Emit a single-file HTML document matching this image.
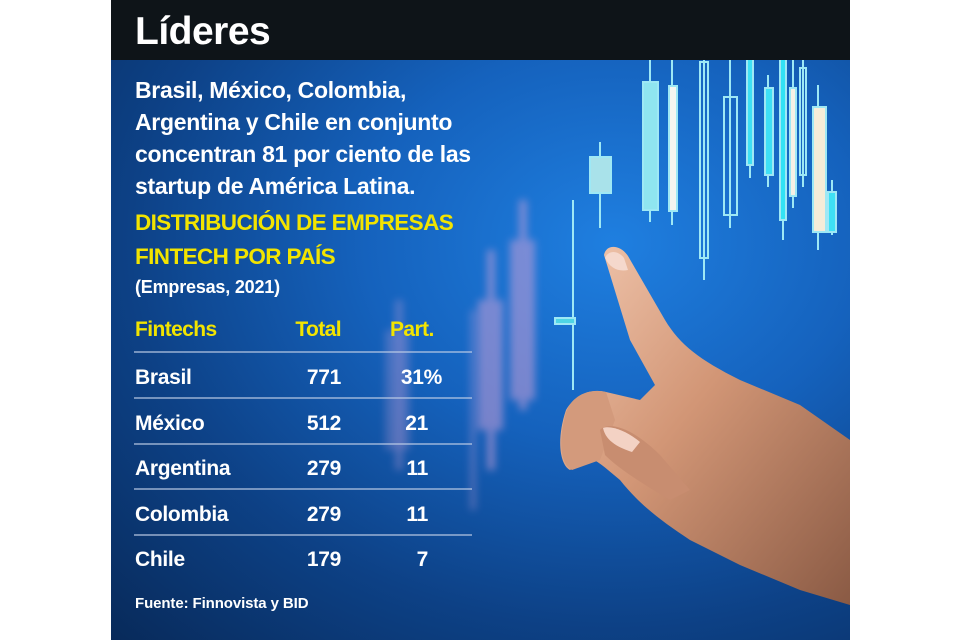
<!DOCTYPE html>
<html><head><meta charset="utf-8"><style>
html,body{margin:0;padding:0;background:#fff;width:960px;height:640px;overflow:hidden}
#p{position:absolute;left:111px;top:0;width:739px;height:640px;overflow:hidden;
background:radial-gradient(ellipse at 68% 38%,#1f7fe0 0%,#1562bd 35%,#0d4186 68%,#082a5a 100%)}
svg{position:absolute;left:-111px;top:0}
.t{position:absolute;font-family:"Liberation Sans",sans-serif;font-weight:bold;color:#fff;white-space:nowrap}
#hd{position:absolute;left:0;top:0;width:739px;height:60px;background:#0e1418}
.y{color:#f2e400}
.ln{position:absolute;left:23px;width:338px;height:2px;background:rgba(190,205,230,.6)}
.r{text-align:right}
</style></head><body>
<div id="p">
<svg width="960" height="640">
<defs>
<linearGradient id="sk" x1="0" y1="0" x2="1" y2="1"><stop offset="0" stop-color="#f2c8b0"/><stop offset=".45" stop-color="#d29676"/><stop offset="1" stop-color="#8a5a44"/></linearGradient>
<filter id="bl"><feGaussianBlur stdDeviation="4"/></filter>
</defs>
<g filter="url(#bl)" opacity=".55" fill="#c79fd8">
<rect x="519" y="200" width="8" height="210"/><rect x="510" y="240" width="25" height="160"/>
<rect x="487" y="250" width="8" height="220"/><rect x="478" y="300" width="25" height="130"/>
<rect x="395" y="300" width="8" height="170" opacity=".6"/><rect x="385" y="330" width="25" height="120" opacity=".5"/>
<rect x="470" y="310" width="6" height="200" opacity=".6"/>
</g>
<g stroke="#9ee8f5" stroke-width="2" fill="none">
<line x1="600" y1="142" x2="600" y2="228"/><rect x="590" y="157" width="21" height="36" fill="#a9e2ea"/>
<line x1="573" y1="200" x2="573" y2="390"/><rect x="555" y="318" width="20" height="6" fill="#4fd5e5"/>
<line x1="650" y1="50" x2="650" y2="222"/><rect x="643" y="82" width="15" height="128" fill="#8fe5f0"/>
<line x1="672" y1="50" x2="672" y2="225"/><rect x="669" y="86" width="8" height="125" fill="#f5f5f0"/>
<line x1="704" y1="55" x2="704" y2="280"/><rect x="700" y="62" width="8" height="196"/>
<line x1="730" y1="60" x2="730" y2="228"/><rect x="724" y="97" width="13" height="118"/>
<line x1="750" y1="50" x2="750" y2="178"/><rect x="747" y="52" width="6" height="113" fill="#3ee0f5"/>
<line x1="768" y1="75" x2="768" y2="187"/><rect x="765" y="88" width="8" height="87" fill="#3ee0f5"/>
<line x1="783" y1="50" x2="783" y2="240"/><rect x="780" y="52" width="6" height="168" fill="#32e2f5"/>
<line x1="793" y1="55" x2="793" y2="208"/><rect x="790" y="88" width="6" height="108" fill="#f5f0e5"/>
<line x1="803" y1="50" x2="803" y2="187"/><rect x="800" y="68" width="6" height="107"/>
<line x1="818" y1="85" x2="818" y2="250"/><rect x="813" y="107" width="13" height="125" fill="#f5ecd8"/>
<line x1="832" y1="180" x2="832" y2="235"/><rect x="828" y="192" width="8" height="40" fill="#3ee0f5"/>
</g>
<path d="M604,255 C606,244 620,244 628,256 L665,320 C680,345 700,360 740,380 L800,405 L850,440 L850,605 L800,590 L740,565 L690,540 C660,520 640,505 620,480 C610,472 600,462 590,458 L570,470 C560,465 556,440 566,410 C575,395 590,388 606,392 L640,400 L655,385 L630,340 Z" fill="url(#sk)"/>
<path d="M606,392 C588,388 572,396 566,412 C558,440 560,464 572,470 L600,460 L615,420 Z" fill="#d39a7c"/>
<path d="M600,430 C610,420 635,430 660,455 L690,490 L670,500 C645,485 620,470 605,455 Z" fill="#c88d70"/>
<path d="M603,428 C612,425 628,432 640,442 L632,452 C620,448 606,442 603,428 Z" fill="#f3d2c4"/>
<path d="M605,258 C608,250 618,250 624,258 L628,270 C618,272 610,268 605,258 Z" fill="#f5d8cc"/>
</svg>
<div id="hd"></div>
<div class="t" style="left:24px;top:10px;font-size:39px;letter-spacing:-0.5px">Líderes</div>
<div class="t" style="left:24px;top:74px;font-size:23px;line-height:32px;letter-spacing:-0.3px">Brasil, México, Colombia,<br>Argentina y Chile en conjunto<br>concentran 81 por ciento de las<br>startup de América Latina.</div>
<div class="t y" style="left:24px;top:206px;font-size:22.5px;line-height:34px;letter-spacing:-0.6px">DISTRIBUCIÓN DE EMPRESAS<br>FINTECH POR PAÍS</div>
<div class="t" style="left:24px;top:277px;font-size:18px;letter-spacing:-0.2px">(Empresas, 2021)</div>
<div class="t y" style="left:24px;top:318px;font-size:21px;letter-spacing:-0.6px">Fintechs</div>
<div class="t y r" style="left:160px;width:70px;top:318px;font-size:21px;letter-spacing:-0.6px">Total</div>
<div class="t y" style="left:279px;top:318px;font-size:21px;letter-spacing:-0.6px">Part.</div>
<div class="ln" style="top:351px"></div><div class="ln" style="top:397px"></div><div class="ln" style="top:443px"></div><div class="ln" style="top:488px"></div><div class="ln" style="top:534px"></div>
<div class="t" style="left:24px;top:355px;font-size:21px;line-height:45.5px;letter-spacing:-0.3px">Brasil<br>México<br>Argentina<br>Colombia<br>Chile</div>
<div class="t r" style="left:160px;width:70px;top:355px;font-size:21px;line-height:45.5px;letter-spacing:-0.3px">771<br>512<br>279<br>279<br>179</div>
<div class="t r" style="left:260px;width:71px;top:355px;font-size:21px;line-height:45.5px;letter-spacing:-0.3px">31%</div>
<div class="t r" style="left:260px;width:57px;top:355px;font-size:21px;line-height:45.5px;letter-spacing:-0.3px"><br>21<br>11<br>11<br>7</div>
<div class="t" style="left:24px;top:595px;font-size:15px;letter-spacing:-0.1px">Fuente: Finnovista y BID</div>
</div>
</body></html>
